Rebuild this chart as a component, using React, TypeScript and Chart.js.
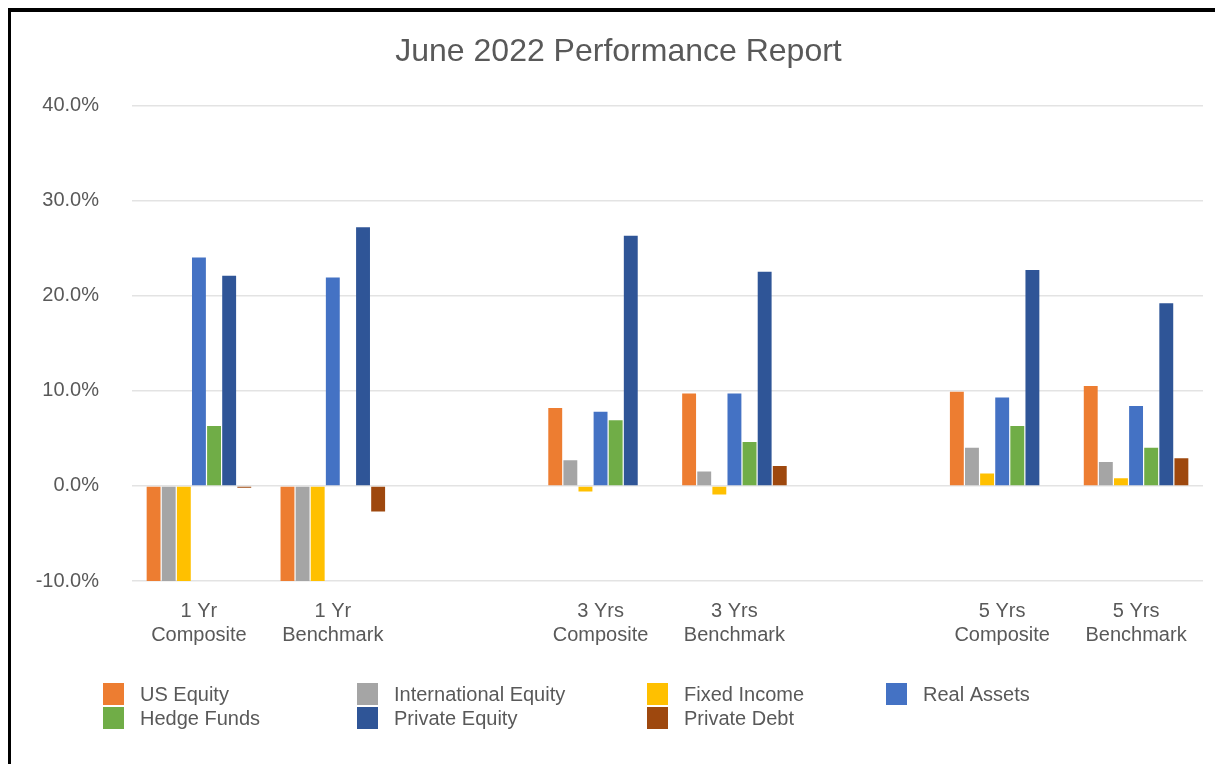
import React, { useEffect, useRef } from "react";
import { Chart, registerables } from "chart.js";

Chart.register(...registerables);

const FONT = '"Liberation Sans", Arial, sans-serif';
const TEXT = "#595959";

const categories: (string | string[])[] = [
  ["1 Yr", "Composite"],
  ["1 Yr", "Benchmark"],
  "",
  ["3 Yrs", "Composite"],
  ["3 Yrs", "Benchmark"],
  "",
  ["5 Yrs", "Composite"],
  ["5 Yrs", "Benchmark"],
];

const usEquity = [-14, -14, null, 8.2, 9.7, null, 9.9, 10.5];
const intlEquity = [-19, -19, null, 2.7, 1.5, null, 4.0, 2.5];
const fixedIncome = [-11, -11, null, -0.6, -0.9, null, 1.3, 0.8];
const realAssets = [24.0, 21.9, null, 7.8, 9.7, null, 9.3, 8.4];
const hedgeFunds = [6.3, null, null, 6.9, 4.6, null, 6.3, 4.0];
const privateEquity = [22.1, 27.2, null, 26.3, 22.5, null, 22.7, 19.2];
const privateDebt = [-0.2, -2.7, null, null, 2.1, null, null, 2.9];

const seriesNames = [
  "US Equity",
  "International Equity",
  "Fixed Income",
  "Real Assets",
  "Hedge Funds",
  "Private Equity",
  "Private Debt",
];
const seriesColors = ["#ED7D31", "#A5A5A5", "#FFC000", "#4472C4", "#70AD47", "#2F5597", "#9E480E"];
const seriesValues = [usEquity, intlEquity, fixedIncome, realAssets, hedgeFunds, privateEquity, privateDebt];

const yMin = -10;
const yMax = 40;
const yStep = 10;

const legendCols = [92, 346, 636, 875];

const gridLegend = {
  id: "gridLegend",
  afterDraw(chart: any) {
    const ctx = chart.ctx as CanvasRenderingContext2D;
    const top = chart.chartArea.bottom + 102;
    ctx.save();
    ctx.font = `20px ${FONT}`;
    ctx.textBaseline = "middle";
    ctx.textAlign = "left";
    chart.data.datasets.forEach((d: any, i: number) => {
      const col = i % 4;
      const row = Math.floor(i / 4);
      const x = legendCols[col];
      const y = top + row * 24;
      ctx.fillStyle = d.backgroundColor;
      ctx.fillRect(x, y, 21, 22);
      ctx.fillStyle = TEXT;
      ctx.fillText(d.label, x + 37, y + 12);
    });
    ctx.restore();
  },
};

export default function App() {
  const ref = useRef<HTMLCanvasElement | null>(null);

  useEffect(() => {
    document.body.style.overflow = "hidden";
    if (!ref.current) return;
    const chart = new Chart(ref.current, {
      type: "bar",
      data: {
        labels: categories as any,
        datasets: seriesNames.map((name, i) => ({
          label: name,
          data: seriesValues[i] as any,
          backgroundColor: seriesColors[i],
          borderWidth: 0,
          categoryPercentage: 0.79,
          barPercentage: 0.92,
        })),
      },
      options: {
        animation: false,
        responsive: true,
        maintainAspectRatio: false,
        layout: { padding: { left: 23, right: 20, top: 0, bottom: 99 } },
        plugins: {
          legend: { display: false },
          tooltip: { enabled: false },
          title: {
            display: true,
            text: "June 2022 Performance Report",
            color: TEXT,
            font: { family: FONT, size: 32, weight: "normal" as any, lineHeight: 1.2 },
            padding: { top: 21, bottom: 34 },
          },
        },
        scales: {
          x: {
            grid: { display: false, drawTicks: false },
            border: { display: false },
            ticks: {
              color: TEXT,
              font: { family: FONT, size: 20, lineHeight: 1.2 },
              padding: 18,
              maxRotation: 0,
              autoSkip: false,
            },
          },
          y: {
            min: yMin,
            max: yMax,
            afterFit: (s: any) => {
              s.width = 98;
            },
            grid: { color: "#E3E3E3", lineWidth: 1.5, drawTicks: false },
            border: { display: false },
            ticks: {
              stepSize: yStep,
              color: TEXT,
              font: { family: FONT, size: 20 },
              padding: 33,
              callback: (v: any) => `${Number(v).toFixed(1)}%`,
            },
          },
        },
      },
      plugins: [gridLegend],
    });
    return () => chart.destroy();
  }, []);

  return (
    <div
      style={{
        border: "4px solid black",
        width: 1250,
        height: 790,
        boxSizing: "border-box",
        marginLeft: -1,
        background: "white",
      }}
    >
      <div style={{ width: 1212, height: 752, position: "relative" }}>
        <canvas ref={ref} />
      </div>
    </div>
  );
}
